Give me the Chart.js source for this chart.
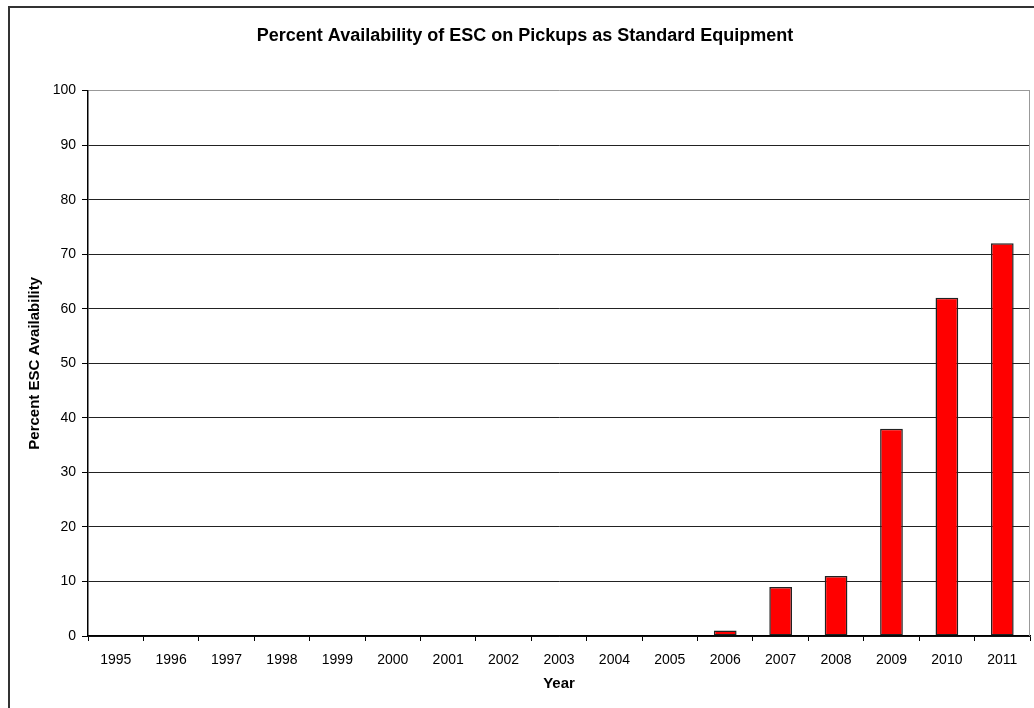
<!DOCTYPE html>
<html lang="en">

<head>
	<meta charset="UTF-8">
	<title>ESC on Pickups</title>
	<script src="https://cdn.jsdelivr.net/npm/chart.js"></script>
	<style>
		html, body { margin: 0; padding: 0; overflow: hidden; background: #fff; }
		#wrap { position: relative; width: 1034px; height: 708px; }
		#frame { position: absolute; left: 8px; top: 6px; width: 1100px; height: 800px; border: 2px solid #333; }
		#escChart { position: absolute; left: 0; top: 0; }
	</style>
</head>

<body>
	<div id="wrap">
		<div id="frame"></div>
		<canvas id="escChart" width="1034" height="708"></canvas>
	</div>
	<script>
	// data
	const years = ['1995', '1996', '1997', '1998', '1999', '2000', '2001', '2002', '2003', '2004', '2005', '2006', '2007', '2008', '2009', '2010', '2011'];
	const escPercent = [0, 0, 0, 0, 0, 0, 0, 0, 0, 0, 0, 1, 9, 11, 38, 62, 72];
	const yTicks = [0, 10, 20, 30, 40, 50, 60, 70, 80, 90, 100];

	Chart.defaults.color = '#000';
	Chart.defaults.font.family = '"Liberation Sans", Arial, sans-serif';

	// gray line down the right side of the plot
	const rightEdge = {
		id: 'rightEdge',
		afterDraw(chart) {
			const { ctx, chartArea } = chart;
			ctx.save();
			ctx.strokeStyle = '#999';
			ctx.lineWidth = 1;
			ctx.beginPath();
			ctx.moveTo(chartArea.right - 0.5, chartArea.top);
			ctx.lineTo(chartArea.right - 0.5, chartArea.bottom);
			ctx.stroke();
			ctx.restore();
		}
	};

	const ctx = document.getElementById('escChart').getContext('2d');
	new Chart(ctx, {
		type: 'bar',
		data: {
			labels: years,
			datasets: [{
				label: 'Percent ESC Availability',
				data: escPercent,
				backgroundColor: '#ff0000',
				borderColor: '#222',
				borderWidth: 1.5,
				borderSkipped: false,
				barPercentage: 0.41,
				categoryPercentage: 1
			}]
		},
		options: {
			responsive: false,
			animation: false,
			layout: { padding: { left: 20, right: 4, top: 0, bottom: 0 } },
			plugins: {
				legend: { display: false },
				tooltip: { enabled: false },
				title: {
					display: true,
					text: 'Percent Availability of ESC on Pickups as Standard Equipment',
					font: { size: 18, weight: 'bold' },
					padding: { top: 25, bottom: 44 }
				}
			},
			scales: {
				x: {
					afterFit(scale) { scale.height = 72; },
					grid: {
						display: true,
						drawOnChartArea: false,
						drawTicks: true,
						tickLength: 5,
						tickColor: '#000',
						offset: true
					},
					border: { display: true, color: '#000', width: 1.5 },
					ticks: { font: { size: 14 }, padding: 11, maxRotation: 0, autoSkip: false },
					title: {
						display: true,
						text: 'Year',
						font: { size: 15, weight: 'bold' },
						padding: { top: 0, bottom: 15 }
					}
				},
				y: {
					min: 0,
					max: 100,
					afterFit(scale) { scale.width = 68; },
					afterBuildTicks(scale) { scale.ticks = yTicks.map(v => ({ value: v })); },
					grid: {
						color: c => c.tick && c.tick.value === 100 ? '#999' : '#222',
						lineWidth: 1,
						drawTicks: true,
						tickLength: 6,
						tickColor: '#000'
					},
					border: { display: true, color: '#000', width: 1.5 },
					ticks: { font: { size: 14 }, padding: 6 },
					title: {
						display: true,
						text: 'Percent ESC Availability',
						font: { size: 15, weight: 'bold' },
						padding: { top: 6, bottom: 0 }
					}
				}
			}
		},
		plugins: [rightEdge]
	});
	</script>
</body>

</html>
